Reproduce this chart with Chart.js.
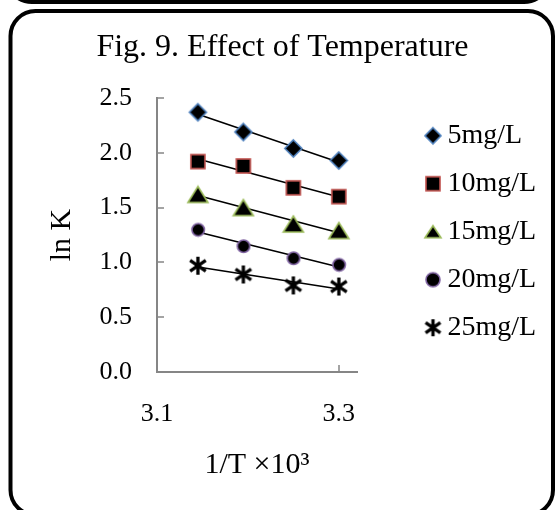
<!DOCTYPE html>
<html><head><meta charset="utf-8">
<script src="https://cdn.jsdelivr.net/npm/chart.js@4/dist/chart.umd.min.js"></script>
<style>html,body{margin:0;padding:0;background:#fff;}#wrap{width:556px;height:510px;position:relative;}</style>
</head><body><div id="wrap"><canvas id="c" width="556" height="510"></canvas></div>
<script>
// ---- data ----
const xValues = [3.145, 3.195, 3.25, 3.30];          // 1/T x10^3
const seriesNames = ['5mg/L', '10mg/L', '15mg/L', '20mg/L', '25mg/L'];
const lnK_5mg  = [2.37, 2.19, 2.04, 1.93];
const lnK_10mg = [1.92, 1.88, 1.68, 1.60];
const lnK_15mg = [1.62, 1.50, 1.35, 1.29];
const lnK_20mg = [1.30, 1.15, 1.04, 0.98];
const lnK_25mg = [0.97, 0.89, 0.79, 0.78];
const xTickValues = [3.1, 3.3];
const yTickValues = [0, 0.5, 1.0, 1.5, 2.0, 2.5];
const titleText = 'Fig. 9. Effect of Temperature';
const xTitle = '1/T \u00D710\u00B3';
const yTitle = 'ln K';

const allSeries = [lnK_5mg, lnK_10mg, lnK_15mg, lnK_20mg, lnK_25mg];
const FONT = "'Liberation Serif', 'Times New Roman', serif";
const BLUE = '#4F81BD', RED = '#C0504D', GREEN = '#9BBB59', PURPLE = '#8064A2';

// layout targets (pixels)
const PAD = { top: 14, left: 12, right: 3, bottom: 20 };
const PLOT_LEFT = 157, PLOT_RIGHT = 357, PLOT_BOTTOM = 372;
const LEG_FONT = 28, LEG_PAD = 20, LEG_BOX = 1, LEG_MARKER_X = 433;

function mk(w, h, draw) { const c = document.createElement('canvas'); c.width = w; c.height = h; draw(c.getContext('2d'), w, h); return c; }
function triImg(w, h, lw) {
  return mk(w + 4, h + 4, (g) => {
    g.beginPath(); g.moveTo(2 + w / 2, 2); g.lineTo(2 + w, 2 + h); g.lineTo(2, 2 + h); g.closePath();
    g.fillStyle = '#000'; g.fill(); g.lineWidth = lw; g.strokeStyle = GREEN; g.stroke();
  });
}
function starImg(s, lw) {
  return mk(s + 2, s + 2, (g) => {
    const c = (s + 2) / 2, r = s / 2;
    g.strokeStyle = '#000'; g.lineWidth = lw; g.beginPath();
    g.moveTo(c, c - r); g.lineTo(c, c + r);
    const dx = r * 0.87, dy = r * 0.6;
    g.moveTo(c - dx, c - dy); g.lineTo(c + dx, c + dy);
    g.moveTo(c - dx, c + dy); g.lineTo(c + dx, c - dy);
    g.stroke();
  });
}
function diamondImg(d, lw) {
  return mk(d + 4, d + 4, (g, w) => {
    const c = w / 2, r = d / 2; g.beginPath(); g.moveTo(c, c - r); g.lineTo(c + r, c); g.lineTo(c, c + r); g.lineTo(c - r, c); g.closePath();
    g.fillStyle = '#000'; g.fill(); g.lineWidth = lw; g.strokeStyle = BLUE; g.stroke();
  });
}
function squareImg(s, lw) {
  return mk(s + 4, s + 4, (g) => { g.fillStyle = '#000'; g.fillRect(2, 2, s, s); g.lineWidth = lw; g.strokeStyle = RED; g.strokeRect(2, 2, s, s); });
}
function circleImg(d, lw) {
  return mk(d + 4, d + 4, (g, w) => { g.beginPath(); g.arc(w / 2, w / 2, d / 2, 0, Math.PI * 2); g.fillStyle = '#000'; g.fill(); g.lineWidth = lw; g.strokeStyle = PURPLE; g.stroke(); });
}

const dataStyles = [diamondImg(17, 1.6), squareImg(14, 1.6), triImg(20, 16, 1.6), circleImg(12.5, 1.6), starImg(18, 3.3)];
const legendStyles = [diamondImg(16, 1.6), squareImg(14, 1.6), triImg(16, 12, 1.6), circleImg(14, 1.6), starImg(17, 3.3)];

function fitLine(xs, ys) {
  const n = xs.length, mx = xs.reduce((a, b) => a + b) / n, my = ys.reduce((a, b) => a + b) / n;
  let sxy = 0, sxx = 0; for (let i = 0; i < n; i++) { sxy += (xs[i] - mx) * (ys[i] - my); sxx += (xs[i] - mx) ** 2; }
  const b = sxy / sxx, a = my - b * mx;
  const x0 = xs[0], x1 = xs[n - 1];
  return [{ x: x0, y: a + b * x0 }, { x: x1, y: a + b * x1 }];
}

// legend width as Chart.js computes it (vertical legends add 10px)
const mctx = document.createElement('canvas').getContext('2d');
mctx.font = LEG_FONT + 'px ' + FONT;
const legTextW = Math.max(...seriesNames.map(s => mctx.measureText(s).width));
const legendW = LEG_PAD + LEG_BOX + LEG_FONT / 2 + legTextW + 10;
const legendLeft = LEG_MARKER_X - LEG_BOX / 2 - LEG_PAD;
const gapInner = legendLeft - PLOT_RIGHT;
const gapOuter = Math.max(0, (556 - PAD.right) - (legendLeft + legendW));

const pointSets = allSeries.map((ys, i) => ({
  type: 'scatter', label: seriesNames[i],
  data: xValues.map((x, j) => ({ x, y: ys[j] })),
  pointStyle: dataStyles[i], pointRadius: 9, pointHoverRadius: 9,
  backgroundColor: '#000', borderColor: '#000', showLine: false
}));
const trendSets = allSeries.map((ys, i) => ({
  type: 'line', label: 'trend' + i, data: fitLine(xValues, ys),
  borderColor: '#000', borderWidth: 1.6, pointRadius: 0, fill: false, tension: 0
}));

const frame = {
  id: 'frame',
  beforeDraw(chart) {
    const g = chart.ctx; g.save();
    g.fillStyle = '#fff'; g.fillRect(0, 0, chart.width, chart.height);
    g.strokeStyle = '#000'; g.lineWidth = 4;
    g.beginPath(); g.roundRect(6, -300, 544, 302, 26); g.stroke();
    g.beginPath(); g.roundRect(10.5, 11, 542.5, 504, 25); g.stroke();
    g.restore();
  }
};
const innerTicks = {
  id: 'innerTicks',
  beforeDatasetsDraw(chart) {
    const g = chart.ctx, xs = chart.scales.x, ys = chart.scales.y, a = chart.chartArea;
    g.save(); g.strokeStyle = '#868686'; g.lineWidth = 1.5; g.beginPath();
    yTickValues.forEach(v => { const p = Math.round(ys.getPixelForValue(v)); g.moveTo(a.left, p); g.lineTo(a.left + 7, p); });
    xTickValues.forEach(v => { const p = Math.round(xs.getPixelForValue(v)); g.moveTo(p, a.bottom); g.lineTo(p, a.bottom - 7); });
    g.stroke(); g.restore();
  }
};
const spacer = (w, weight) => ({
  type: 'linear', position: 'right', display: true, weight,
  grid: { display: false, drawTicks: false }, border: { display: false }, ticks: { display: false },
  afterFit: (s) => { s.width = w; }
});

new Chart(document.getElementById('c'), {
  type: 'scatter',
  data: { datasets: [...pointSets, ...trendSets] },
  options: {
    responsive: false, animation: false, events: [],
    layout: { padding: PAD },
    plugins: {
      tooltip: { enabled: false },
      title: { display: true, text: titleText, color: '#000', font: { family: FONT, size: 32, weight: 'normal' }, padding: { top: 14, bottom: 31.6 } },
      legend: {
        position: 'right', align: 'start', fullSize: false, maxWidth: 400,
        title: { display: true, text: '', font: { size: 1 }, padding: { top: 0, bottom: 2.5 } },
        labels: {
          usePointStyle: true, boxWidth: LEG_BOX, boxHeight: 14, padding: LEG_PAD, color: '#000',
          font: { family: FONT, size: LEG_FONT },
          filter: (item) => item.datasetIndex < seriesNames.length,
          generateLabels(chart) {
            const items = Chart.defaults.plugins.legend.labels.generateLabels(chart);
            items.forEach(it => { if (it.datasetIndex < legendStyles.length) { it.pointStyle = legendStyles[it.datasetIndex]; it.rotation = 0; } });
            return items;
          }
        }
      }
    },
    scales: {
      x: {
        type: 'linear', min: 3.1, max: 3.32,
        afterBuildTicks: (s) => { s.ticks = xTickValues.map(v => ({ value: v })); },
        afterFit: (s) => { s.height = 510 - PAD.bottom - PLOT_BOTTOM; },
        grid: { display: false, drawTicks: false },
        border: { display: true, color: '#868686', width: 2 },
        ticks: { color: '#000', font: { family: FONT, size: 26 }, padding: 27, maxRotation: 0, callback: (v) => Number(v).toFixed(1) },
        title: { display: true, text: xTitle, color: '#000', font: { family: FONT, size: 30 }, padding: { top: 20, bottom: 7 } }
      },
      y: {
        type: 'linear', min: 0, max: 2.5,
        afterBuildTicks: (s) => { s.ticks = yTickValues.map(v => ({ value: v })); },
        afterFit: (s) => { s.width = PLOT_LEFT - PAD.left; },
        grid: { display: false, drawTicks: false },
        border: { display: true, color: '#868686', width: 2 },
        ticks: { color: '#000', font: { family: FONT, size: 26 }, padding: 25, callback: (v) => Number(v).toFixed(1) },
        title: { display: true, text: yTitle, color: '#000', font: { family: FONT, size: 30 }, padding: { top: 32, bottom: 10 } }
      },
      gapA: spacer(gapInner, 0),
      gapB: spacer(gapOuter, 2000)
    }
  },
  plugins: [frame, innerTicks]
});
</script></body></html>
